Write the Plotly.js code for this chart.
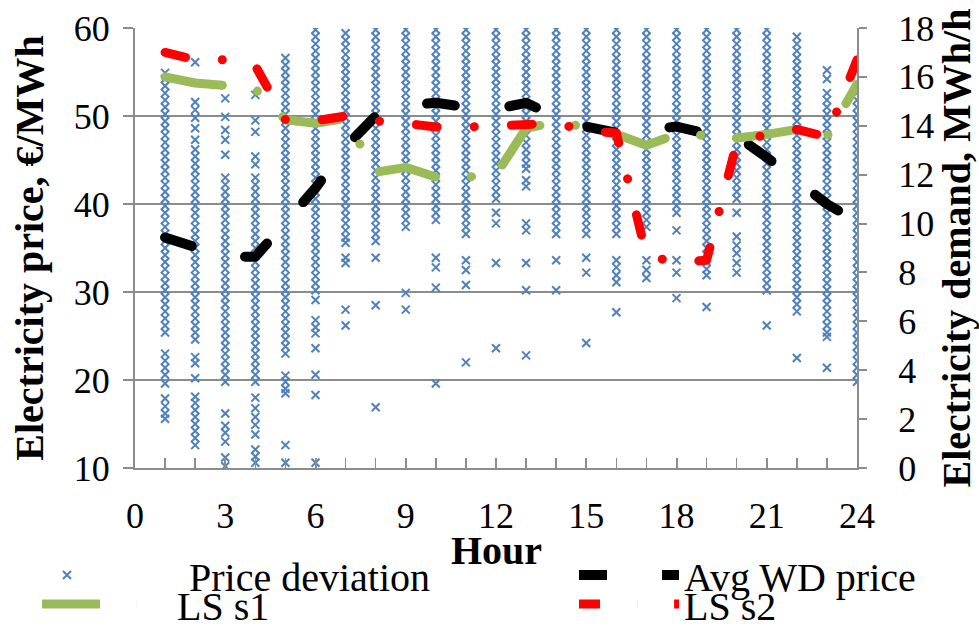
<!DOCTYPE html>
<html>
<head>
<meta charset="utf-8">
<script src="https://cdn.plot.ly/plotly-3.0.1.min.js"></script>
<style>
  html, body { margin: 0; padding: 0; background: #fff; }
  #chart { width: 979px; height: 628px; }
  .scatterlayer .js-line, .legend .js-line { stroke-linecap: round; stroke-linejoin: round; }
</style>
</head>
<body>
<div id="chart"></div>
<script>
// ---- Data ----
const hours = [1,2,3,4,5,6,7,8,9,10,11,12,13,14,15,16,17,18,19,20,21,22,23,24];

// Average weekday price (EUR/MWh, left axis)
const avgWDPrice = [36.2, 35.0, 34.0, 34.0, 37.7, 41.8, 46.5, 50.0, 51.2, 51.5, 51.0, 50.8,
                    51.5, 49.9, 48.8, 48.1, 48.4, 48.8, 48.0, 47.7, 45.3, 42.7, 40.0, 38.0];

// Load-shifting scenarios (MWh/h, right axis)
const lsS1 = [16.0, 15.75, 15.65, 15.5, 14.25, 14.1, 14.3, 12.1, 12.3, 11.9, 11.9, 12.0,
              13.9, 14.15, 13.95, 13.65, 13.2, 13.65, 13.6, 13.5, 13.65, 13.85, 13.55, 15.7];
const lsS2 = [17.0, 16.7, 16.7, 16.45, 14.25, 14.2, 14.4, 14.2, 14.1, 13.95, 13.95, 13.98,
              14.05, 14.1, 13.8, 13.7, 8.7, 8.4, 8.5, 13.3, 13.65, 13.85, 13.55, 16.7];

// Price deviation observations per hour (EUR/MWh, left axis)
const priceDevH1 = [54.9, 54.2, 53.4, 52.6, 51.8, 51.0, 50.2, 49.4, 48.6, 47.8, 47.0, 46.2, 45.4, 44.6, 43.8, 43.0, 42.2, 41.4, 40.6, 39.8, 39.0, 38.2, 37.4, 36.6, 35.8, 35.0, 34.2, 33.4, 32.6, 31.8, 31.0, 30.2, 29.4, 28.6, 27.8, 27.0, 26.2, 25.4, 23.0, 22.2, 21.4, 20.6, 19.6, 17.9, 17.0, 16.2, 15.6];
const priceDevH2 = [56.1, 51.6, 50.7, 49.8, 48.6, 47.3, 46.2, 45.4, 44.6, 43.8, 43.0, 42.2, 41.4, 40.6, 39.8, 39.0, 38.2, 37.4, 36.6, 35.8, 35.0, 34.2, 33.4, 32.6, 31.8, 31.0, 30.2, 29.4, 28.6, 27.8, 27.0, 26.2, 25.4, 24.6, 22.6, 21.9, 20.2, 18.1, 17.4, 16.6, 15.8, 15.0, 14.2, 13.4, 12.6];
const priceDevH3 = [52.0, 49.9, 48.4, 47.3, 45.6, 43.0, 42.2, 41.4, 40.6, 39.8, 39.0, 38.2, 37.4, 36.6, 35.8, 35.0, 34.2, 33.4, 32.6, 31.8, 31.0, 30.2, 29.4, 28.6, 27.8, 27.0, 26.2, 25.4, 24.6, 23.8, 23.0, 22.2, 21.4, 20.6, 19.8, 16.2, 14.8, 14.0, 13.0, 11.2, 10.2];
const priceDevH4 = [52.4, 49.5, 48.2, 45.4, 44.5, 43.0, 42.2, 41.4, 40.6, 39.8, 39.0, 38.2, 37.4, 36.6, 35.8, 35.0, 34.2, 33.4, 32.6, 31.8, 31.0, 30.2, 29.4, 28.6, 27.8, 27.0, 26.2, 25.4, 24.6, 23.8, 23.0, 22.2, 21.4, 20.6, 19.8, 18.0, 16.8, 15.8, 14.9, 13.8, 12.1, 11.3, 10.6];
const priceDevH5 = [56.6, 55.8, 55.0, 54.2, 53.4, 52.6, 51.8, 51.0, 50.2, 49.4, 48.6, 47.8, 47.0, 46.2, 45.4, 44.6, 43.8, 43.0, 42.2, 41.4, 40.6, 39.8, 39.0, 38.2, 37.4, 36.6, 35.8, 35.0, 34.2, 33.4, 32.6, 31.8, 31.0, 30.2, 29.4, 28.6, 27.8, 27.0, 26.2, 25.4, 24.6, 23.8, 23.0, 20.5, 19.8, 19.0, 18.5, 12.6, 10.6];
const priceDevH6 = [59.8, 59.0, 58.2, 57.4, 56.6, 55.8, 55.0, 54.2, 53.4, 52.6, 51.8, 51.0, 50.2, 49.4, 48.6, 47.8, 47.0, 46.2, 45.4, 44.6, 43.8, 43.0, 42.2, 41.4, 40.6, 39.8, 39.0, 38.2, 37.4, 36.6, 35.8, 35.0, 34.2, 33.4, 32.6, 31.8, 31.0, 30.2, 29.1, 26.8, 26.0, 25.3, 23.6, 20.6, 18.3, 10.6];
const priceDevH7 = [59.4, 58.6, 57.8, 57.0, 56.2, 55.4, 54.6, 53.8, 53.0, 52.2, 51.4, 50.6, 49.8, 49.0, 48.2, 47.4, 46.6, 45.8, 45.0, 44.2, 43.4, 42.6, 41.8, 41.0, 40.2, 39.4, 38.6, 37.8, 37.0, 36.2, 35.6, 33.9, 33.3, 28.0, 26.2];
const priceDevH8 = [59.8, 59.0, 58.2, 57.4, 56.6, 55.8, 55.0, 54.2, 53.4, 52.6, 51.8, 51.0, 50.2, 49.4, 48.6, 47.8, 47.0, 46.2, 45.4, 44.6, 43.8, 43.0, 42.2, 41.4, 40.6, 39.8, 39.0, 38.2, 37.4, 36.6, 35.8, 33.9, 28.5, 16.9];
const priceDevH9 = [59.8, 59.0, 58.2, 57.4, 56.6, 55.8, 55.0, 54.2, 53.4, 52.6, 51.8, 51.0, 50.2, 49.4, 48.6, 47.8, 47.0, 46.2, 45.4, 44.6, 43.8, 43.0, 42.2, 41.4, 40.6, 39.8, 39.0, 38.2, 37.4, 29.9, 28.0];
const priceDevH10 = [59.8, 59.0, 58.2, 57.4, 56.6, 55.8, 55.0, 54.2, 53.4, 52.6, 51.8, 51.0, 50.2, 49.4, 48.6, 47.8, 47.0, 46.2, 45.4, 44.6, 43.8, 43.0, 42.2, 41.4, 40.6, 39.8, 39.0, 38.2, 33.9, 32.8, 30.5, 19.6];
const priceDevH11 = [59.8, 59.0, 58.2, 57.4, 56.6, 55.8, 55.0, 54.2, 53.4, 52.6, 51.8, 51.0, 50.2, 49.4, 48.6, 47.8, 47.0, 46.2, 45.4, 44.6, 43.8, 43.0, 42.2, 41.4, 40.6, 39.8, 39.0, 38.2, 37.4, 36.6, 33.6, 32.5, 30.8, 22.0];
const priceDevH12 = [59.8, 59.0, 58.2, 57.4, 56.6, 55.8, 55.0, 54.2, 53.4, 52.6, 51.8, 51.0, 50.2, 49.4, 48.6, 47.8, 47.0, 46.2, 45.4, 44.6, 43.8, 43.0, 42.2, 41.4, 40.6, 39.0, 37.8, 33.3, 23.6];
const priceDevH13 = [59.8, 59.0, 58.2, 57.4, 56.6, 55.8, 55.0, 54.2, 53.4, 52.6, 51.8, 51.0, 50.2, 49.4, 48.6, 47.8, 47.0, 46.2, 45.4, 44.6, 44.0, 42.7, 42.0, 37.8, 37.0, 33.3, 30.2, 22.8];
const priceDevH14 = [59.8, 59.0, 58.2, 57.4, 56.6, 55.8, 55.0, 54.2, 53.4, 52.6, 51.8, 51.0, 50.2, 49.4, 48.6, 47.8, 47.0, 46.2, 45.4, 44.6, 43.8, 43.0, 42.2, 41.4, 40.6, 39.8, 39.0, 38.2, 37.4, 36.6, 33.6, 30.2];
const priceDevH15 = [59.8, 59.0, 58.2, 57.4, 56.6, 55.8, 55.0, 54.2, 53.4, 52.6, 51.8, 51.0, 50.2, 49.4, 48.6, 47.8, 47.0, 46.2, 45.4, 44.6, 43.8, 43.0, 42.2, 41.4, 40.6, 39.8, 39.0, 38.2, 37.4, 36.6, 33.9, 32.2, 24.2];
const priceDevH16 = [59.8, 59.0, 58.2, 57.4, 56.6, 55.8, 55.0, 54.2, 53.4, 52.6, 51.8, 51.0, 50.2, 49.4, 48.6, 47.8, 47.0, 46.2, 45.4, 44.6, 43.8, 43.0, 42.2, 41.4, 40.6, 39.8, 39.0, 38.2, 37.4, 36.6, 33.6, 32.8, 31.9, 31.1, 27.7];
const priceDevH17 = [59.8, 59.0, 58.2, 57.4, 56.6, 55.8, 55.0, 54.2, 53.4, 52.6, 51.8, 51.0, 50.2, 49.4, 48.6, 47.8, 47.0, 46.2, 45.4, 44.6, 43.8, 43.0, 42.2, 41.4, 40.6, 39.8, 39.0, 38.2, 37.4, 33.6, 32.5, 31.6];
const priceDevH18 = [59.8, 59.0, 58.2, 57.4, 56.6, 55.8, 55.0, 54.2, 53.4, 52.6, 51.8, 51.0, 50.2, 49.4, 48.6, 47.8, 47.0, 46.2, 45.4, 44.6, 43.8, 43.0, 42.2, 41.4, 40.6, 39.8, 39.0, 37.0, 33.6, 32.2, 29.3];
const priceDevH19 = [59.8, 59.0, 58.2, 57.4, 56.6, 55.8, 55.0, 54.2, 53.4, 52.6, 51.8, 51.0, 50.2, 49.4, 48.6, 47.8, 47.0, 46.2, 45.4, 44.6, 43.8, 43.0, 42.2, 41.4, 40.6, 39.8, 39.0, 38.2, 37.4, 36.6, 35.8, 35.0, 34.2, 33.4, 32.6, 31.9, 28.3];
const priceDevH20 = [59.8, 59.0, 58.2, 57.4, 56.6, 55.8, 55.0, 54.2, 53.4, 52.6, 51.8, 51.0, 50.2, 49.4, 48.6, 47.8, 47.0, 46.2, 45.4, 44.6, 43.8, 43.0, 42.2, 41.4, 40.6, 39.0, 36.3, 35.3, 34.4, 33.3, 32.2];
const priceDevH21 = [59.8, 59.0, 58.2, 57.4, 56.6, 55.8, 55.0, 54.2, 53.4, 52.6, 51.8, 51.0, 50.2, 49.4, 48.6, 47.8, 47.0, 46.2, 45.4, 44.6, 43.8, 43.0, 42.2, 41.4, 40.6, 39.8, 39.0, 38.2, 37.4, 36.6, 35.8, 35.0, 34.2, 33.4, 32.6, 31.8, 31.0, 30.2, 26.2];
const priceDevH22 = [59.0, 58.2, 57.4, 56.6, 55.8, 55.0, 54.2, 53.4, 52.6, 51.8, 51.0, 50.2, 49.4, 48.6, 47.8, 47.0, 46.2, 45.4, 44.6, 43.8, 43.0, 42.2, 41.4, 40.6, 39.8, 39.0, 38.2, 37.4, 36.6, 35.8, 35.0, 34.2, 33.4, 32.6, 31.8, 31.0, 30.2, 29.4, 28.6, 27.8, 22.5];
const priceDevH23 = [55.2, 54.2, 52.6, 51.8, 51.0, 50.2, 49.4, 48.6, 47.8, 47.0, 46.2, 45.4, 44.6, 43.8, 43.0, 42.2, 41.4, 40.6, 39.8, 39.0, 38.2, 37.4, 36.6, 35.8, 35.0, 34.2, 33.4, 32.6, 31.8, 31.0, 30.2, 29.4, 28.6, 27.8, 27.0, 26.2, 25.4, 24.9, 21.4];
const priceDevH24 = [52.6, 51.8, 51.0, 50.2, 49.4, 48.6, 47.8, 47.0, 46.2, 45.4, 44.6, 43.8, 43.0, 42.2, 41.4, 40.6, 39.8, 39.0, 38.2, 37.4, 36.6, 35.8, 35.0, 34.2, 33.4, 32.6, 31.8, 31.0, 30.2, 29.4, 28.6, 27.8, 27.0, 26.2, 25.4, 24.6, 23.8, 23.0, 22.2, 21.4, 20.6, 19.8];

const priceDevByHour = [priceDevH1, priceDevH2, priceDevH3, priceDevH4, priceDevH5, priceDevH6,
  priceDevH7, priceDevH8, priceDevH9, priceDevH10, priceDevH11, priceDevH12, priceDevH13,
  priceDevH14, priceDevH15, priceDevH16, priceDevH17, priceDevH18, priceDevH19, priceDevH20,
  priceDevH21, priceDevH22, priceDevH23, priceDevH24];

const xTickVals = [0, 3, 6, 9, 12, 15, 18, 21, 24];
const yTickVals = [10, 20, 30, 40, 50, 60];
const y2TickVals = [0, 2, 4, 6, 8, 10, 12, 14, 16, 18];

// ---- Build traces ----
const devX = [], devY = [];
priceDevByHour.forEach((vals, i) => {
  vals.forEach(v => { devX.push(hours[i]); devY.push(v); });
});

const SERIF = '"Liberation Serif", "Times New Roman", serif';
const AXIS_GRAY = '#8c8c8c';

const traces = [
  {
    name: 'Price deviation', x: devX, y: devY, type: 'scatter', mode: 'markers',
    marker: { symbol: 'x-thin', size: 8, color: '#4F81BD', line: { color: '#4F81BD', width: 2 } },
    legend: 'legend', hoverinfo: 'skip'
  },
  {
    name: 'Avg WD price', x: hours, y: avgWDPrice, type: 'scatter', mode: 'lines',
    line: { color: '#000000', width: 10, dash: '28px,55px' },
    legend: 'legend2'
  },
  {
    name: 'LS s1', x: hours, y: lsS1, yaxis: 'y2', type: 'scatter', mode: 'lines',
    line: { color: '#9BBB59', width: 9, dash: '58px,36px,0.1px,36px' },
    legend: 'legend3'
  },
  {
    name: 'LS s2', x: hours, y: lsS2, yaxis: 'y2', type: 'scatter', mode: 'lines',
    line: { color: '#FF0000', width: 9, dash: '21px,37px,0.1px,37px' },
    legend: 'legend4'
  }
];

// paper coordinates: plot spans x 135..857 px, y 28..468 px
const PX = px => (px - 135) / 722;
const PY = py => (468 - py) / 440;

function legendAt(xpx, ypx, itemW) {
  return {
    orientation: 'h', xref: 'paper', yref: 'paper', xanchor: 'left', yanchor: 'middle',
    x: PX(xpx), y: PY(ypx),
    font: { family: SERIF, size: 40, color: '#000' },
    bgcolor: 'rgba(0,0,0,0)', borderwidth: 0, itemwidth: itemW,
    itemclick: false, itemdoubleclick: false
  };
}

const layout = {
  width: 979, height: 628,
  margin: { l: 135, r: 122, t: 28, b: 160, autoexpand: false },
  paper_bgcolor: '#ffffff', plot_bgcolor: '#ffffff',
  showlegend: true,
  font: { family: SERIF, color: '#000' },
  xaxis: {
    range: [0, 24], tickvals: xTickVals, ticktext: xTickVals.map(String),
    ticks: 'inside', ticklen: 10, tickwidth: 2, tickcolor: AXIS_GRAY,
    minor: { dtick: 1, tick0: 0, ticks: 'inside', ticklen: 10, tickwidth: 1.5, tickcolor: AXIS_GRAY, showgrid: false },
    showline: true, linecolor: AXIS_GRAY, linewidth: 2,
    showgrid: false, zeroline: false,
    tickfont: { family: SERIF, size: 36, color: '#000' }, ticklabelstandoff: 15
  },
  yaxis: {
    range: [10, 60], tickvals: yTickVals,
    ticks: 'outside', ticklen: 10, tickwidth: 2, tickcolor: AXIS_GRAY,
    showline: true, linecolor: AXIS_GRAY, linewidth: 2,
    showgrid: true, gridcolor: AXIS_GRAY, gridwidth: 2, zeroline: false,
    tickfont: { family: SERIF, size: 36, color: '#000' }, ticklabelstandoff: 6,
    title: { text: 'Electricity price, €/MWh', font: { family: SERIF, size: 40, weight: 'bold', color: '#000' }, standoff: 18 }
  },
  yaxis2: {
    overlaying: 'y', side: 'right', range: [0, 18], tickvals: y2TickVals,
    ticks: 'outside', ticklen: 8, tickwidth: 2, tickcolor: AXIS_GRAY,
    showline: true, linecolor: AXIS_GRAY, linewidth: 2,
    showgrid: false, zeroline: false,
    tickfont: { family: SERIF, size: 36, color: '#000' }, ticklabelstandoff: 24,
    title: { text: 'Electricity demand, MWh/h', font: { family: SERIF, size: 40, weight: 'bold', color: '#000' }, standoff: 6 }
  },
  annotations: [
    { text: 'Hour', xref: 'paper', yref: 'paper', x: 0.5, y: PY(550), xanchor: 'center', yanchor: 'middle',
      showarrow: false, font: { family: SERIF, size: 40, weight: 'bold', color: '#000' } }
  ],
  legend:  legendAt(-55, 575, 234),
  legend2: legendAt(574, 575, 100),
  legend3: legendAt(37, 604, 130),
  legend4: legendAt(574, 604, 100)
};

Plotly.newPlot('chart', traces, layout, { displayModeBar: false, staticPlot: true });
</script>
</body>
</html>
